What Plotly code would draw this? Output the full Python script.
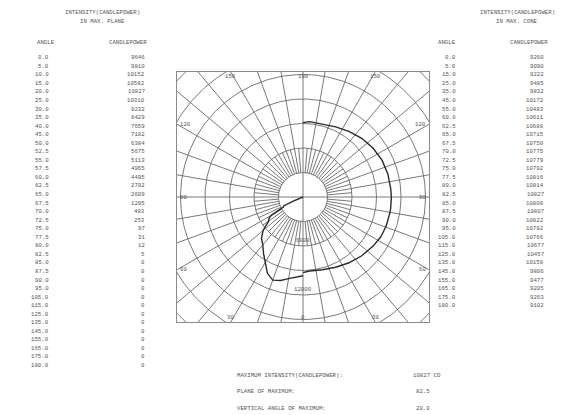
import numpy as np
import plotly.graph_objects as go

# ---------------- data ----------------
plane_angles = [0, 5, 10, 15, 20, 25, 30, 35, 40, 45, 50, 52.5, 55, 57.5, 60, 62.5, 65, 67.5,
                70, 72.5, 75, 77.5, 80, 82.5, 85, 87.5, 90, 95, 105, 115, 125, 135, 145,
                155, 165, 175, 180]
plane_cd = [9646, 9810, 10152, 10582, 10827, 10310, 9232, 8429, 7659, 7182, 6384, 5675, 5113,
            4965, 4495, 2702, 2609, 1295, 483, 253, 97, 31, 12, 5, 0, 0, 0, 0, 0, 0, 0, 0, 0,
            0, 0, 0, 0]

cone_angles = [0, 5, 15, 25, 35, 45, 55, 60, 62.5, 65, 67.5, 70, 72.5, 75, 77.5, 80, 82.5, 85,
               87.5, 90, 95, 105, 115, 125, 135, 145, 155, 165, 175, 180]
cone_cd = [9260, 9090, 9222, 9485, 9832, 10172, 10483, 10611, 10688, 10715, 10750, 10775, 10779,
           10792, 10816, 10814, 10827, 10800, 10807, 10822, 10792, 10766, 10677, 10457, 10158,
           9806, 9477, 9205, 9263, 9102]

ring_values = [3000, 6000, 9000, 12000, 15000, 18000, 21000, 24000]
ring_labels = [6000, 12000]
angle_labels = [0, 30, 60, 90, 120, 150, 180]

summary_labels = ["MAXIMUM INTENSITY(CANDLEPOWER):", "PLANE OF MAXIMUM:", "VERTICAL ANGLE OF MAXIMUM:"]
summary_values = ["10827 CD", "82.5", "20.0"]

# ---------------- layout geometry (pixels) ----------------
W, H = 582, 415
bx0, bx1, by0, by1 = 177, 429, 72, 322
cx, cy = 303, 197
k = 98.0 / 12000.0  # px per candela

xr = [(bx0 - cx) / k, (bx1 - cx) / k]
yr = [-(by1 - cy) / k, (cy - by0) / k]

FONT = "Liberation Mono"
TXT = "#555555"
GRID = "#6a6a6a"
FS = 5.7

fig = go.Figure()

# grid: rings
gx, gy = [], []
t = np.linspace(0, 2 * np.pi, 361)
for rv in ring_values:
    gx += list(rv * np.cos(t)) + [None]
    gy += list(rv * np.sin(t)) + [None]
# radial lines every 10 deg (from inner ring outward), 5 deg (inner band)
for a in range(0, 360, 10):
    r = np.radians(a)
    if a % 90 == 0:
        continue
    gx += [3000 * np.sin(r), 30000 * np.sin(r), None]
    gy += [-3000 * np.cos(r), -30000 * np.cos(r), None]
for a in range(5, 360, 10):
    r = np.radians(a)
    gx += [3000 * np.sin(r), 6000 * np.sin(r), None]
    gy += [-3000 * np.cos(r), -6000 * np.cos(r), None]
# main cross
gx += [xr[0], xr[1], None, 0, 0, None]
gy += [0, 0, None, yr[0], yr[1], None]

fig.add_trace(go.Scatter(x=gx, y=gy, mode="lines", line=dict(color=GRID, width=0.9),
                         hoverinfo="skip", showlegend=False))

# curves
pa = np.radians(plane_angles)
pc = np.array(plane_cd, dtype=float)
fig.add_trace(go.Scatter(x=-pc * np.sin(pa), y=-pc * np.cos(pa), mode="lines",
                         line=dict(color="#2a2a2a", width=1.4), showlegend=False))
ca = np.radians(cone_angles)
cc = np.array(cone_cd, dtype=float)
fig.add_trace(go.Scatter(x=cc * np.sin(ca), y=-cc * np.cos(ca), mode="lines",
                         line=dict(color="#2a2a2a", width=1.4), showlegend=False))

ann = []


def txt(x, y, s, anchor="left", size=FS):
    ann.append(dict(x=x / W, y=1 - y / H, xref="paper", yref="paper", text=s, showarrow=False,
                    xanchor=anchor, yanchor="middle", font=dict(family=FONT, size=size, color=TXT)))


# angle labels on the box border (0 at nadir / bottom, 180 at top)
for a in angle_labels:
    r = np.radians(a)
    for side in ([-1, 1] if 0 < a < 180 else [1]):
        dx, dy = side * np.sin(r), np.cos(r)  # pixel coords, y downward
        hx = (bx1 - cx) if dx > 0 else (cx - bx0)
        hy = (by1 - cy) if dy > 0 else (cy - by0)
        s = min(hx / abs(dx) if abs(dx) > 1e-9 else 1e9, hy / abs(dy) if abs(dy) > 1e-9 else 1e9)
        px, py = cx + dx * s, cy + dy * s
        if abs(px - bx0) < 1:
            txt(px + 1, py, str(a), "left")
        elif abs(px - bx1) < 1:
            txt(px - 1, py, str(a), "right")
        elif abs(py - by0) < 1:
            txt(px, py + 5, str(a), "center")
        else:
            txt(px, py - 5, str(a), "center")

for rv in ring_labels:
    ann.append(dict(x=0, y=-rv, xref="x", yref="y", text=str(rv), showarrow=False,
                    xanchor="center", yanchor="bottom", yshift=0,
                    font=dict(family=FONT, size=FS, color=TXT)))

# left table
txt(102, 13, "INTENSITY(CANDLEPOWER)", "center")
txt(102, 21, "IN MAX. PLANE", "center")
txt(46, 42, "ANGLE", "center")
txt(128, 42, "CANDLEPOWER", "center")
for i, (a, v) in enumerate(zip(plane_angles, plane_cd)):
    y = 57.7 + 8.55 * i
    txt(51, y, f"{a:.1f}", "right")
    txt(147, y, f"{v}", "right")

# right table
txt(517, 13, "INTENSITY(CANDLEPOWER)", "center")
txt(517, 21, "IN MAX. CONE", "center")
txt(447, 42, "ANGLE", "center")
txt(529, 42, "CANDLEPOWER", "center")
for i, (a, v) in enumerate(zip(cone_angles, cone_cd)):
    y = 57.7 + 8.55 * i
    txt(458, y, f"{a:.1f}", "right")
    txt(546, y, f"{v}", "right")

# summary
for i, (lab, val) in enumerate(zip(summary_labels, summary_values)):
    y = 375 + 16.8 * i
    txt(235, y, lab, "left")
    txt(411 if i == 0 else 414, y, val, "left")

fig.update_layout(
    width=W, height=H, margin=dict(l=0, r=0, t=0, b=0),
    paper_bgcolor="white", plot_bgcolor="white",
    xaxis=dict(range=xr, domain=[bx0 / W, bx1 / W], showgrid=False, zeroline=False,
               showticklabels=False, ticks="", showline=True, mirror=True,
               linecolor="#8a8a8a", linewidth=1, fixedrange=True),
    yaxis=dict(range=yr, domain=[(H - by1) / H, (H - by0) / H], showgrid=False, zeroline=False,
               showticklabels=False, ticks="", showline=True, mirror=True,
               linecolor="#8a8a8a", linewidth=1, fixedrange=True),
    annotations=ann,
    showlegend=False,
)

fig.write_html("out.html", config={"displayModeBar": False},
               post_script="document.body.style.margin='0';document.body.style.overflow='hidden';")
